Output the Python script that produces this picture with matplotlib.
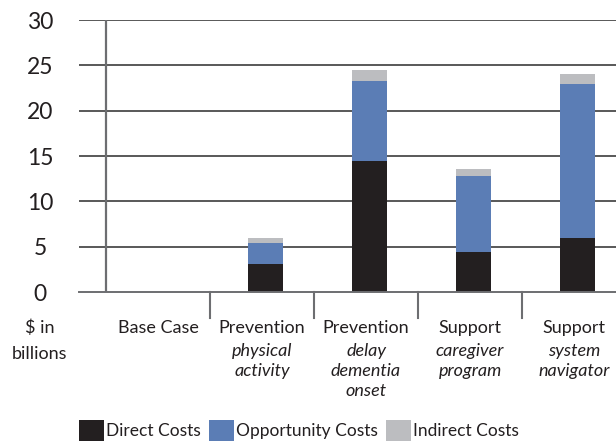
import numpy as np
import matplotlib
matplotlib.use('Agg')
import matplotlib.pyplot as plt

plt.rcParams['font.family'] = ['Lato', 'DejaVu Sans']

# values in $ billions
scenarios = ['Base Case', 'Prevention', 'Prevention', 'Support', 'Support']
subtitles = [[], ['physical', 'activity'], ['delay', 'dementia', 'onset'],
             ['caregiver', 'program'], ['system', 'navigator']]
direct = [0, 3.1, 14.45, 4.4, 5.95]
opportunity = [0, 2.3, 8.8, 8.4, 17.0]
indirect = [0, 0.55, 1.2, 0.77, 1.1]

c_direct = '#231f20'
c_opp = '#5b7db5'
c_ind = '#bcbdc0'
c_axis = '#6d6e71'

W, H = 616, 444
fig = plt.figure(figsize=(W / 100, H / 100), dpi=100)
# axes box in pixels: x 79..616, y 20..292
ax = fig.add_axes([79 / W, 1 - 292 / H, (616 - 79) / W, (292 - 20) / H])

x = np.arange(len(scenarios))
xb = x + 0.035
w = 0.34
d = np.array(direct)
o = np.array(opportunity)
i_ = np.array(indirect)
b1 = ax.bar(xb, d, w, color=c_direct, label='Direct Costs', zorder=3)
b2 = ax.bar(xb, o, w, bottom=d, color=c_opp, label='Opportunity Costs', zorder=3)
b3 = ax.bar(xb, i_, w, bottom=d + o, color=c_ind, label='Indirect Costs', zorder=3)

ax.set_xlim(-0.76, 4.404)
ax.set_ylim(0, 30)
for s in ax.spines.values():
    s.set_visible(False)

yt = np.arange(0, 31, 5)
for v in yt[1:]:
    ax.axhline(v, color='#2b2b2b', lw=1.1, zorder=1)
ax.axhline(0, color=c_axis, lw=1.4, zorder=4, clip_on=False)
ax.plot([-0.5, -0.5], [0, 30], color=c_axis, lw=1.6, zorder=2)

ax.set_yticks(yt)
ax.set_yticklabels([str(v) for v in yt], ha='center', fontsize=16.5, color='#231f20')
ax.tick_params(axis='y', length=0, pad=28)
ax.set_xticks([])

tr = ax.get_xaxis_transform()
def fy(p):
    return (292 - p) / 272

# category separators below the axis
for sx in x[:-1] + 0.5:
    ax.plot([sx, sx], [0, fy(318)], transform=tr, color=c_axis, lw=1.5, clip_on=False)

for k, name in enumerate(scenarios):
    ax.text(x[k], fy(328), name, transform=tr, ha='center', va='center',
            fontsize=13, color='#231f20')
    for j, line in enumerate(subtitles[k]):
        ax.text(x[k], fy(351 + 20 * j), line, transform=tr, ha='center', va='center',
                fontsize=13, style='italic', color='#231f20')

fig.text(40 / W, 1 - 328 / H, '$ in', ha='center', va='center', fontsize=13, color='#231f20')
fig.text(40 / W, 1 - 354 / H, 'billions', ha='center', va='center', fontsize=13, color='#231f20')

ax.legend(handles=[b1, b2, b3], loc='lower left', bbox_to_anchor=(79 / W, 3 / H),
          bbox_transform=fig.transFigure, ncol=3, frameon=False, fontsize=12.5,
          handlelength=1.45, handleheight=1.45, handletextpad=0.12, columnspacing=0.45,
          borderpad=0, borderaxespad=0, labelcolor='#231f20')

fig.savefig('out.png', dpi=100)
